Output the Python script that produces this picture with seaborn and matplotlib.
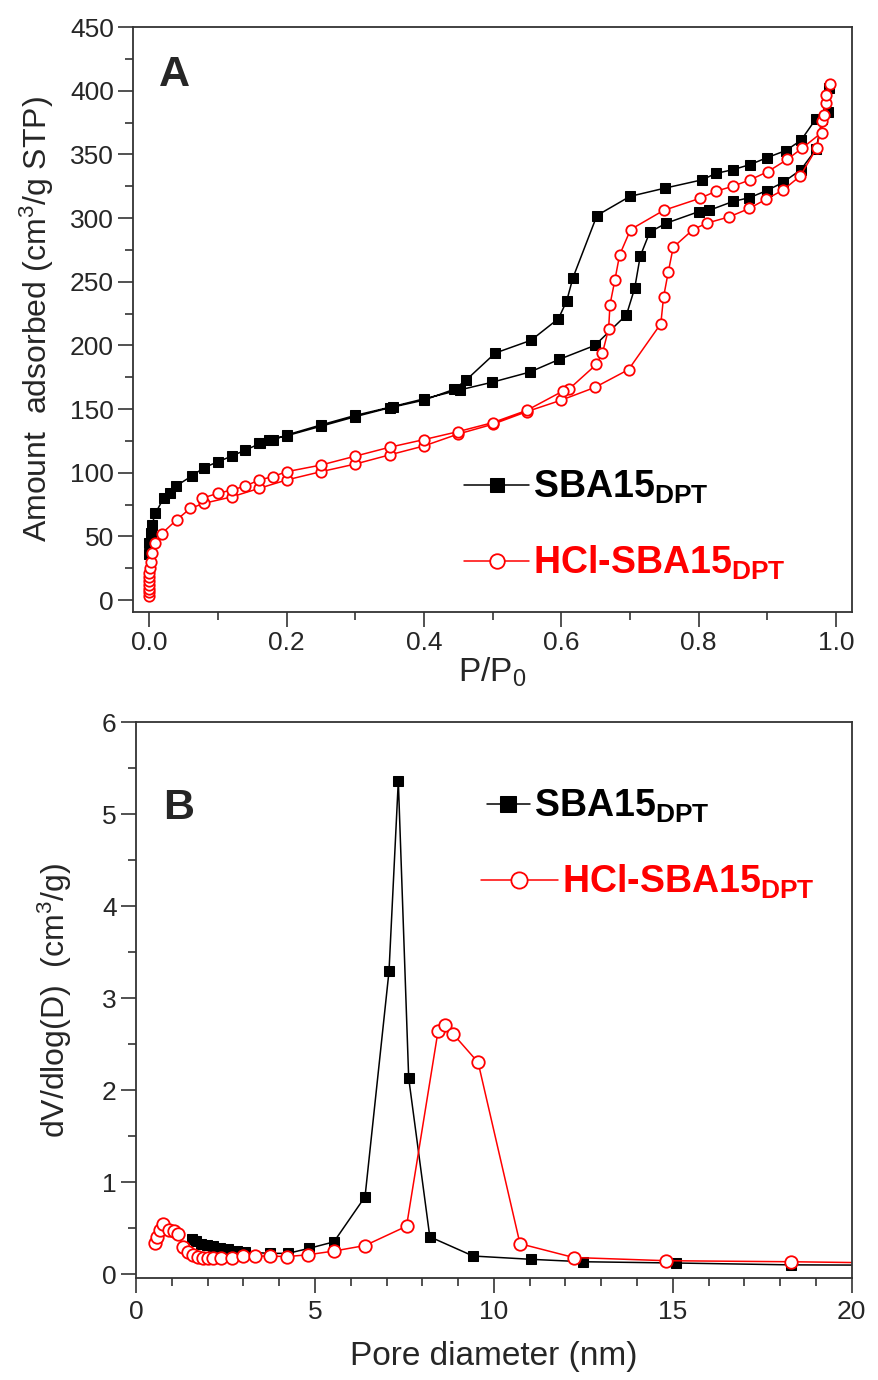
import numpy as np
import pandas as pd
import matplotlib
matplotlib.use("Agg")
import matplotlib.pyplot as plt
from matplotlib.ticker import MultipleLocator, FormatStrFormatter
import seaborn as sns

# Panel A: N2 isotherms (P/P0, cm3/g STP), adsorption then desorption branch
sba_ads_p = [0.0, 0.0005, 0.002, 0.004, 0.009, 0.021, 0.03, 0.039, 0.062, 0.08, 0.10, 0.12,
             0.14, 0.162, 0.18, 0.20, 0.25, 0.30, 0.355, 0.40, 0.452, 0.499, 0.554, 0.597,
             0.649, 0.695, 0.707, 0.715, 0.729, 0.753, 0.80, 0.815, 0.85, 0.874, 0.899, 0.923,
             0.949, 0.971, 0.98, 0.99]
sba_ads_v = [36, 45, 53, 59, 68, 80, 84, 89.5, 97.4, 104, 108.6, 113,
             117.8, 123, 125.7, 129.6, 137.5, 145, 152, 158, 165, 171, 179, 189,
             200, 224, 245, 270, 289, 296, 305, 306, 313, 316, 321.5, 328,
             338, 354, 378, 402]
sba_des_p = [0.988, 0.971, 0.949, 0.927, 0.90, 0.875, 0.85, 0.825, 0.805, 0.751, 0.70, 0.652,
             0.617, 0.608, 0.596, 0.556, 0.504, 0.462, 0.444, 0.40, 0.35, 0.30, 0.25, 0.20,
             0.175, 0.16]
sba_des_v = [383, 378, 361, 353, 347.5, 342, 338, 335, 330, 323.5, 317, 302,
             253, 235, 221, 204, 194, 173, 165.5, 157, 151, 144, 136.5, 129,
             126, 123]

hcl_ads_p = [0.0, 0.0, 0.0, 0.0, 0.0, 0.0, 0.0005, 0.001, 0.002, 0.004, 0.009, 0.018,
             0.04, 0.06, 0.08, 0.12, 0.16, 0.20, 0.25, 0.30, 0.35, 0.40, 0.45, 0.50,
             0.55, 0.60, 0.649, 0.698, 0.745, 0.749, 0.756, 0.763, 0.792, 0.812, 0.845, 0.874,
             0.898, 0.923, 0.948, 0.972, 0.98, 0.986, 0.991]
hcl_ads_v = [3, 6, 9, 12, 15, 18, 21, 25, 30, 37, 45, 52,
             63, 72, 76, 81, 87.7, 94.3, 100.8, 106.8, 114, 121, 130.4, 138,
             148, 157, 167, 181, 217, 238, 258, 277, 291, 296, 301, 307.6,
             314.7, 322, 333, 355, 376, 390, 405]
hcl_des_p = [0.986, 0.982, 0.979, 0.951, 0.929, 0.901, 0.875, 0.85, 0.825, 0.802, 0.749, 0.701,
             0.685, 0.678, 0.671, 0.669, 0.66, 0.651, 0.612, 0.602, 0.55, 0.50, 0.45, 0.40,
             0.35, 0.30, 0.25, 0.20, 0.18, 0.16, 0.14, 0.12, 0.10, 0.077]
hcl_des_v = [397, 381, 367, 355, 346, 336.5, 330, 325, 321, 315.5, 306, 291,
             271, 251, 232, 213, 194, 185, 166, 164, 149, 139.3, 132.3, 126,
             120, 113, 106, 100.8, 96.9, 94.3, 89.5, 86.4, 83.8, 80]

# Panel B: pore size distribution (nm, cm3/g)
sba_d = [1.56, 1.69, 1.83, 1.99, 2.16, 2.35, 2.58, 2.81, 3.04, 3.74, 4.25, 4.84,
         5.53, 6.40, 7.07, 7.33, 7.62, 8.21, 9.42, 11.05, 12.48, 15.1, 18.29, 22.0]
sba_dv = [0.377, 0.36, 0.33, 0.315, 0.30, 0.28, 0.27, 0.255, 0.24, 0.225, 0.225, 0.28,
          0.35, 0.84, 3.29, 5.36, 2.13, 0.405, 0.196, 0.16, 0.134, 0.12, 0.10, 0.095]
hcl_d = [0.53, 0.60, 0.67, 0.76, 0.93, 1.07, 1.18, 1.32, 1.46, 1.60, 1.74, 1.88,
         2.02, 2.16, 2.37, 2.67, 3.0, 3.32, 3.74, 4.23, 4.81, 5.53, 6.40, 7.56,
         8.44, 8.63, 8.86, 9.56, 10.73, 12.23, 14.82, 18.29, 22.0]
hcl_dv = [0.34, 0.405, 0.48, 0.54, 0.48, 0.47, 0.44, 0.29, 0.24, 0.21, 0.19, 0.18,
          0.18, 0.18, 0.18, 0.18, 0.195, 0.195, 0.195, 0.19, 0.21, 0.25, 0.31, 0.52,
          2.64, 2.71, 2.61, 2.30, 0.33, 0.18, 0.145, 0.134, 0.115]

lab_sba = "SBA15$_{\\mathbf{DPT}}$"
lab_hcl = "HCl-SBA15$_{\\mathbf{DPT}}$"

sns.set_style("ticks")
plt.rcParams["font.family"] = ["Liberation Sans", "DejaVu Sans"]
plt.rcParams["mathtext.fontset"] = "custom"
plt.rcParams["mathtext.rm"] = "Liberation Sans"
plt.rcParams["mathtext.bf"] = "Liberation Sans:bold"
plt.rcParams["mathtext.it"] = "Liberation Sans:italic"

fig = plt.figure(figsize=(8.79, 13.8), dpi=100)
axA = fig.add_axes([0.1517, 0.5565, 0.8173, 0.4239])
axB = fig.add_axes([0.1547, 0.0739, 0.8143, 0.4029])

iso_sba = pd.DataFrame({"P": sba_ads_p + sba_des_p, "V": sba_ads_v + sba_des_v})
iso_hcl = pd.DataFrame({"P": hcl_ads_p + hcl_des_p, "V": hcl_ads_v + hcl_des_v})
psd_sba = pd.DataFrame({"D": sba_d, "dV": sba_dv})
psd_hcl = pd.DataFrame({"D": hcl_d, "dV": hcl_dv})

black_kw = dict(color="black", lw=1.1, marker="s", markersize=7,
                markerfacecolor="black", markeredgecolor="black")
red_kw = dict(color="red", lw=1.1, marker="o", markersize=7.5,
              markerfacecolor="white", markeredgecolor="red", markeredgewidth=1.3)

sns.lineplot(data=iso_sba, x="P", y="V", sort=False, estimator=None, ax=axA,
             legend=False, **black_kw)
sns.lineplot(data=iso_hcl, x="P", y="V", sort=False, estimator=None, ax=axA,
             legend=False, **red_kw)

sns.lineplot(data=psd_sba, x="D", y="dV", sort=False, estimator=None, ax=axB,
             legend=False, **dict(black_kw, markersize=7.5))
sns.lineplot(data=psd_hcl, x="D", y="dV", sort=False, estimator=None, ax=axB,
             legend=False, **dict(red_kw, markersize=9))

axA.set_xlim(-0.023, 1.023)
axA.set_ylim(-9.4, 450)
axA.xaxis.set_major_locator(MultipleLocator(0.2))
axA.xaxis.set_minor_locator(MultipleLocator(0.1))
axA.xaxis.set_major_formatter(FormatStrFormatter("%.1f"))
axA.yaxis.set_major_locator(MultipleLocator(50))
axA.yaxis.set_minor_locator(MultipleLocator(25))
axA.set_xlabel("P/P$_0$", fontsize=24, labelpad=0)
axA.set_ylabel("Amount  adsorbed (cm$^3$/g STP)", fontsize=23, labelpad=10)

axB.set_xlim(0, 20)
axB.set_ylim(-0.043, 6)
axB.xaxis.set_major_locator(MultipleLocator(5))
axB.xaxis.set_minor_locator(MultipleLocator(1))
axB.yaxis.set_major_locator(MultipleLocator(1))
axB.yaxis.set_minor_locator(MultipleLocator(0.5))
axB.set_xlabel("Pore diameter (nm)", fontsize=24, labelpad=12)
axB.set_ylabel("dV/dlog(D)  (cm$^3$/g)", fontsize=23, labelpad=20)

for ax in (axA, axB):
    ax.tick_params(which="major", direction="out", length=11, width=1.2,
                   labelsize=19, color="#333333", pad=3)
    ax.tick_params(which="minor", direction="out", length=5.5, width=1.2, color="#333333")
    for sp in ax.spines.values():
        sp.set_linewidth(1.3)
        sp.set_color("#333333")
    ax.grid(False)
axB.tick_params(axis="x", which="major", pad=5)

axA.text(0.035, 0.918, "A", transform=axA.transAxes, fontsize=31,
         fontweight="bold", ha="left", va="center")
axB.text(0.038, 0.845, "B", transform=axB.transAxes, fontsize=31,
         fontweight="bold", ha="left", va="center")

leg_font = {"weight": "bold", "size": 27}
hA = axA.get_lines()
axA.legend([hA[0], hA[1]], [lab_sba, lab_hcl], loc="center left",
           bbox_to_anchor=(0.46, 0.148), frameon=False, prop=leg_font,
           labelcolor="linecolor", handlelength=1.75, handletextpad=0.1,
           labelspacing=1.0, borderpad=0, borderaxespad=0, markerscale=1.4)

hB = axB.get_lines()
legB1 = axB.legend([hB[0]], [lab_sba], loc="center left", bbox_to_anchor=(0.49, 0.848),
                   frameon=False, prop=leg_font, labelcolor="linecolor", markerscale=1.45,
                   handlelength=1.15, handletextpad=0.1, borderpad=0, borderaxespad=0)
axB.add_artist(legB1)
axB.legend([hB[1]], [lab_hcl], loc="center left", bbox_to_anchor=(0.482, 0.712),
           frameon=False, prop=leg_font, labelcolor="linecolor", markerscale=1.3,
           handlelength=2.05, handletextpad=0.1, borderpad=0, borderaxespad=0)

fig.savefig("out.png", dpi=100)
